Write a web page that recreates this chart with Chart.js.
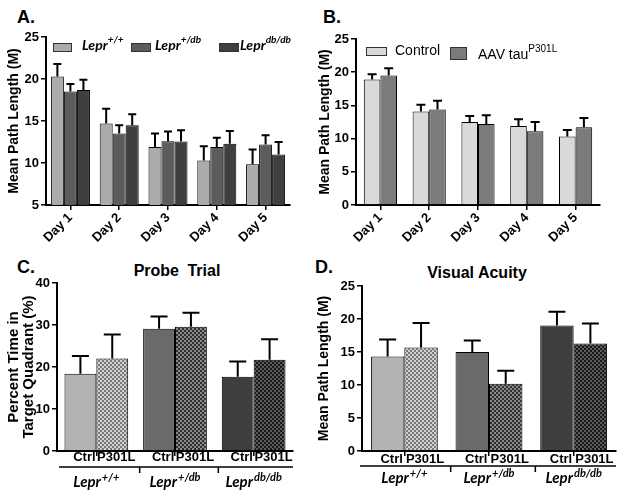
<!DOCTYPE html>
<html>
<head>
  <meta charset="utf-8">
  <title>Lepr db / tau P301L - water maze</title>
  <script src="https://cdn.jsdelivr.net/npm/chart.js"></script>
  <style>
    body { margin: 0; background: #fff; width: 621px; height: 496px; position: relative; overflow: hidden; font-family: 'Liberation Sans', Arial, sans-serif; color: #000; }
    canvas { position: absolute; }
    .letter { position: absolute; font: bold 18px/18px 'Liberation Sans', Arial, sans-serif; }
    .ptitle { position: absolute; width: 200px; text-align: center; font: bold 16px/16px 'Liberation Sans', Arial, sans-serif; }
    .box { position: absolute; border: 1px solid #333; box-sizing: border-box; }
    .lab { position: absolute; white-space: nowrap; }
    .lepr { font: italic bold 14px/14px Lato, sans-serif; }
    .lepr sup, .reg sup { font-size: 10px; line-height: 0; position: relative; top: -1px; }
    .reg { font: 14px/14px 'Liberation Sans', Arial, sans-serif; }
  </style>
</head>
<body>
  <div class="letter" style="left:17px; top:8px">A.</div>
  <div class="letter" style="left:323px; top:8px">B.</div>
  <div class="letter" style="left:17px; top:258px">C.</div>
  <div class="letter" style="left:315px; top:258px">D.</div>
  <div class="ptitle" style="left:77px; top:263px; word-spacing:4px">Probe Trial</div>
  <div class="ptitle" style="left:377px; top:265px">Visual Acuity</div>

  <canvas id="chartA" width="310" height="250" style="left:0; top:0"></canvas>
  <canvas id="chartB" width="311" height="250" style="left:310px; top:0"></canvas>
  <canvas id="chartC" width="310" height="246" style="left:0; top:250px"></canvas>
  <canvas id="chartD" width="311" height="246" style="left:310px; top:250px"></canvas>
  <div id="legends"></div>

  <script>
    // ---- data ----
    const days = ['Day 1', 'Day 2', 'Day 3', 'Day 4', 'Day 5'];
    const genotypes = ['+/+', '+/db', 'db/db'];   // superscripts of Lepr
    const treatments = ['Ctrl', 'P301L'];

    // A: path length by genotype
    const pathWT = [20.3, 14.7, 11.9, 10.3, 9.85];
    const pathWTErr = [1.5, 1.75, 1.6, 1.7, 1.75];
    const pathHet = [18.5, 13.5, 12.6, 11.9, 12.2];
    const pathHetErr = [0.9, 1.0, 1.15, 1.1, 1.1];
    const pathDb = [18.7, 14.5, 12.55, 12.3, 11.0];
    const pathDbErr = [1.2, 1.3, 1.35, 1.5, 1.5];

    // B: path length, control vs AAV tau P301L
    const pathControl = [18.9, 14.1, 12.5, 11.9, 10.3];
    const pathControlErr = [0.8, 1.0, 0.9, 1.0, 1.0];
    const pathTau = [19.5, 14.4, 12.2, 11.1, 11.7];
    const pathTauErr = [1.1, 1.3, 1.3, 1.4, 1.4];

    // C: probe trial, % time in target quadrant
    const probeCtrl = [18.4, 29.1, 17.7];
    const probeCtrlErr = [4.2, 2.9, 3.6];
    const probeP301L = [22.0, 29.6, 21.7];
    const probeP301LErr = [5.75, 3.3, 4.9];

    // D: visual acuity, path length
    const visCtrl = [14.3, 15.0, 19.0];
    const visCtrlErr = [2.6, 1.75, 2.1];
    const visP301L = [15.7, 10.2, 16.3];
    const visP301LErr = [3.7, 1.95, 3.0];

    // ---- colours ----
    const greyWT = '#ababab', greyHet = '#5c5c5c', greyDb = '#3f3f3f';
    const greyControl = '#d9d9d9', greyTau = '#7b7b7b';

    function checker(light, dark) {
      const c = document.createElement('canvas');
      c.width = 4; c.height = 4;
      const g = c.getContext('2d');
      g.fillStyle = light; g.fillRect(0, 0, 4, 4);
      g.fillStyle = dark; g.fillRect(0, 0, 2, 2); g.fillRect(2, 2, 2, 2);
      return g.createPattern(c, 'repeat');
    }
    const ctrlColors = ['#b3b3b3', '#6a6a6a', '#3e3e3e'];
    const p301lColors = [checker('#d0d0d0', '#7a7a7a'), checker('#8a8a8a', '#2e2e2e'), checker('#5a5a5a', '#1a1a1a')];

    Chart.defaults.font.family = "'Liberation Sans', Arial, sans-serif";
    Chart.defaults.color = '#000';
    Chart.defaults.animation = false;
    Chart.defaults.plugins.legend.display = false;
    Chart.defaults.plugins.tooltip.enabled = false;

    // upward-only SEM bars with a cap
    const errorBars = {
      id: 'errorBars',
      afterDatasetsDraw(chart, args, opts) {
        const ctx = chart.ctx, y = chart.scales.y;
        ctx.save();
        ctx.strokeStyle = '#000';
        ctx.lineWidth = 2;
        chart.data.datasets.forEach((ds, i) => {
          chart.getDatasetMeta(i).data.forEach((bar, j) => {
            const top = y.getPixelForValue(ds.data[j] + ds.errors[j]);
            ctx.beginPath();
            ctx.moveTo(bar.x, bar.y);
            ctx.lineTo(bar.x, top);
            ctx.moveTo(bar.x - opts.cap / 2, top);
            ctx.lineTo(bar.x + opts.cap / 2, top);
            ctx.stroke();
          });
        });
        ctx.restore();
      }
    };

    function drawLepr(ctx, sup, cx, cy) {
      ctx.font = 'italic bold 15px Lato';
      const w1 = ctx.measureText('Lepr').width;
      ctx.font = 'italic bold 11px Lato';
      const w2 = ctx.measureText(sup).width;
      const x = cx - (w1 + w2 + 1) / 2;
      ctx.textAlign = 'left';
      ctx.font = 'italic bold 15px Lato';
      ctx.fillText('Lepr', x, cy);
      ctx.font = 'italic bold 11px Lato';
      ctx.fillText(sup, x + w1 + 1, cy - 5);
    }

    // Ctrl / P301L under each bar, bracket line and genotype names
    const groupLabels = {
      id: 'groupLabels',
      afterDraw(chart, args, opts) {
        if (!opts.groups) return;
        const { ctx, chartArea: area, scales: { x } } = chart;
        ctx.save();
        ctx.fillStyle = '#000';
        ctx.strokeStyle = '#000';
        ctx.textAlign = 'center';
        ctx.textBaseline = 'middle';
        ctx.font = "bold 13px 'Liberation Sans'";
        chart.data.datasets.forEach((ds, i) => {
          chart.getDatasetMeta(i).data.forEach(bar => ctx.fillText(ds.label, bar.x + opts.shift, area.bottom + opts.labelGap));
        });
        const lineY = area.bottom + opts.lineGap;
        ctx.lineWidth = 1.5;
        ctx.beginPath();
        ctx.moveTo(area.left + opts.lineStart, lineY);
        ctx.lineTo(area.right, lineY);
        for (let k = 0; k < opts.groups.length - 1; k++) {
          const sx = (x.getPixelForValue(k) + x.getPixelForValue(k + 1)) / 2 + opts.shift;
          ctx.moveTo(sx, lineY);
          ctx.lineTo(sx, lineY + 6);
        }
        ctx.stroke();
        ctx.textBaseline = 'middle';
        opts.groups.forEach((g, k) => drawLepr(ctx, g, x.getPixelForValue(k), area.bottom + opts.groupGap));
        ctx.restore();
      }
    };

    function yAxis(min, max, step, title, width, titleFont, titlePad) {
      return {
        min: min, max: max,
        ticks: { stepSize: step, padding: 2, font: { size: 13, weight: 'bold' } },
        grid: { drawOnChartArea: false, tickLength: 5, color: '#000', lineWidth: 1.5 },
        border: { color: '#000', width: 2 },
        title: { display: true, text: title, font: titleFont, padding: { top: titlePad, bottom: 0 } },
        afterFit(s) { s.width = width; }
      };
    }

    function dayAxis() {
      return {
        ticks: { minRotation: 45, maxRotation: 45, autoSkip: false, padding: 0, font: { size: 13, weight: 'bold' } },
        grid: { offset: false, drawOnChartArea: false, tickLength: 5, color: '#000', lineWidth: 1.5 },
        border: { color: '#000', width: 2 },
        afterFit(s) { s.height = 45; }
      };
    }

    function groupAxis() {
      return {
        ticks: { display: false },
        grid: { offset: false, drawOnChartArea: false, tickLength: 5, color: '#000', lineWidth: 1.5 },
        border: { color: '#000', width: 2 },
        afterFit(s) { s.height = 45; }
      };
    }

    const pathTitleFont = { size: 14, weight: 'bold', lineHeight: 1.2 };

    // A
    new Chart(document.getElementById('chartA'), {
      type: 'bar',
      data: {
        labels: days,
        datasets: [
          { label: 'Lepr+/+', data: pathWT, errors: pathWTErr, backgroundColor: greyWT },
          { label: 'Lepr+/db', data: pathHet, errors: pathHetErr, backgroundColor: greyHet },
          { label: 'Lepr db/db', data: pathDb, errors: pathDbErr, backgroundColor: greyDb }
        ].map(d => Object.assign(d, { borderColor: '#000', borderWidth: 1, categoryPercentage: 0.8, barPercentage: 1 }))
      },
      options: {
        responsive: false, devicePixelRatio: 1,
        layout: { padding: { top: 37, right: 20, left: 0, bottom: 0 } },
        scales: { x: dayAxis(), y: yAxis(5, 25, 5, 'Mean Path Length (M)', 46, pathTitleFont, 6) },
        plugins: { errorBars: { cap: 8 } }
      },
      plugins: [errorBars]
    });

    // B
    new Chart(document.getElementById('chartB'), {
      type: 'bar',
      data: {
        labels: days,
        datasets: [
          { label: 'Control', data: pathControl, errors: pathControlErr, backgroundColor: greyControl },
          { label: 'AAV tau P301L', data: pathTau, errors: pathTauErr, backgroundColor: greyTau }
        ].map(d => Object.assign(d, { borderColor: '#000', borderWidth: 1, categoryPercentage: 0.68, barPercentage: 1 }))
      },
      options: {
        responsive: false, devicePixelRatio: 1,
        layout: { padding: { top: 39, right: 21, left: 0, bottom: 0 } },
        scales: { x: dayAxis(), y: yAxis(0, 25, 5, 'Mean Path Length (M)', 46, pathTitleFont, 7) },
        plugins: { errorBars: { cap: 9 } }
      },
      plugins: [errorBars]
    });

    // C
    new Chart(document.getElementById('chartC'), {
      type: 'bar',
      data: {
        labels: genotypes,
        datasets: [
          { label: treatments[0], data: probeCtrl, errors: probeCtrlErr, backgroundColor: ctrlColors },
          { label: treatments[1], data: probeP301L, errors: probeP301LErr, backgroundColor: p301lColors }
        ].map(d => Object.assign(d, { borderColor: '#000', borderWidth: 1, categoryPercentage: 0.81, barPercentage: 1 }))
      },
      options: {
        responsive: false, devicePixelRatio: 1,
        layout: { padding: { top: 33, right: 17, left: 0, bottom: 0 } },
        scales: {
          x: groupAxis(),
          y: yAxis(0, 40, 10, ['Percent Time in', 'Target Quadrant (%)'], 57, { size: 15, weight: 'bold', lineHeight: 1 }, 6)
        },
        plugins: {
          errorBars: { cap: 17 },
          groupLabels: { groups: genotypes, shift: 4, labelGap: 6, lineGap: 16, lineStart: 2, groupGap: 31 }
        }
      },
      plugins: [errorBars, groupLabels]
    });

    // D
    new Chart(document.getElementById('chartD'), {
      type: 'bar',
      data: {
        labels: genotypes,
        datasets: [
          { label: treatments[0], data: visCtrl, errors: visCtrlErr, backgroundColor: ctrlColors },
          { label: treatments[1], data: visP301L, errors: visP301LErr, backgroundColor: p301lColors }
        ].map(d => Object.assign(d, { borderColor: '#000', borderWidth: 1, categoryPercentage: 0.79, barPercentage: 1 }))
      },
      options: {
        responsive: false, devicePixelRatio: 1,
        layout: { padding: { top: 36, right: 5, left: 0, bottom: 0 } },
        scales: { x: groupAxis(), y: yAxis(0, 25, 5, 'Mean Path Length (M)', 52, pathTitleFont, 6) },
        plugins: {
          errorBars: { cap: 17 },
          groupLabels: { groups: genotypes, shift: 4, labelGap: 8, lineGap: 15, lineStart: -2, groupGap: 27 }
        }
      },
      plugins: [errorBars, groupLabels]
    });

    // HTML legends (need superscripts)
    const legendHtml = [
      `<div class="box" style="left:53px;top:43px;width:19px;height:9px;background:${greyWT}"></div>`,
      `<div class="lab lepr" style="left:82px;top:38px">Lepr<sup>+/+</sup></div>`,
      `<div class="box" style="left:131px;top:43px;width:20px;height:9px;background:${greyHet}"></div>`,
      `<div class="lab lepr" style="left:155px;top:38px">Lepr<sup>+/db</sup></div>`,
      `<div class="box" style="left:219px;top:43px;width:20px;height:9px;background:${greyDb}"></div>`,
      `<div class="lab lepr" style="left:240px;top:38px">Lepr<sup>db/db</sup></div>`,
      `<div class="box" style="left:366px;top:47px;width:21px;height:9px;background:${greyControl}"></div>`,
      `<div class="lab reg" style="left:395px;top:43px">Control</div>`,
      `<div class="box" style="left:450px;top:47px;width:17px;height:13px;background:${greyTau}"></div>`,
      `<div class="lab reg" style="left:478px;top:47px">AAV tau<sup>P301L</sup></div>`
    ];
    document.getElementById('legends').innerHTML = legendHtml.join('');
  </script>
</body>
</html>
